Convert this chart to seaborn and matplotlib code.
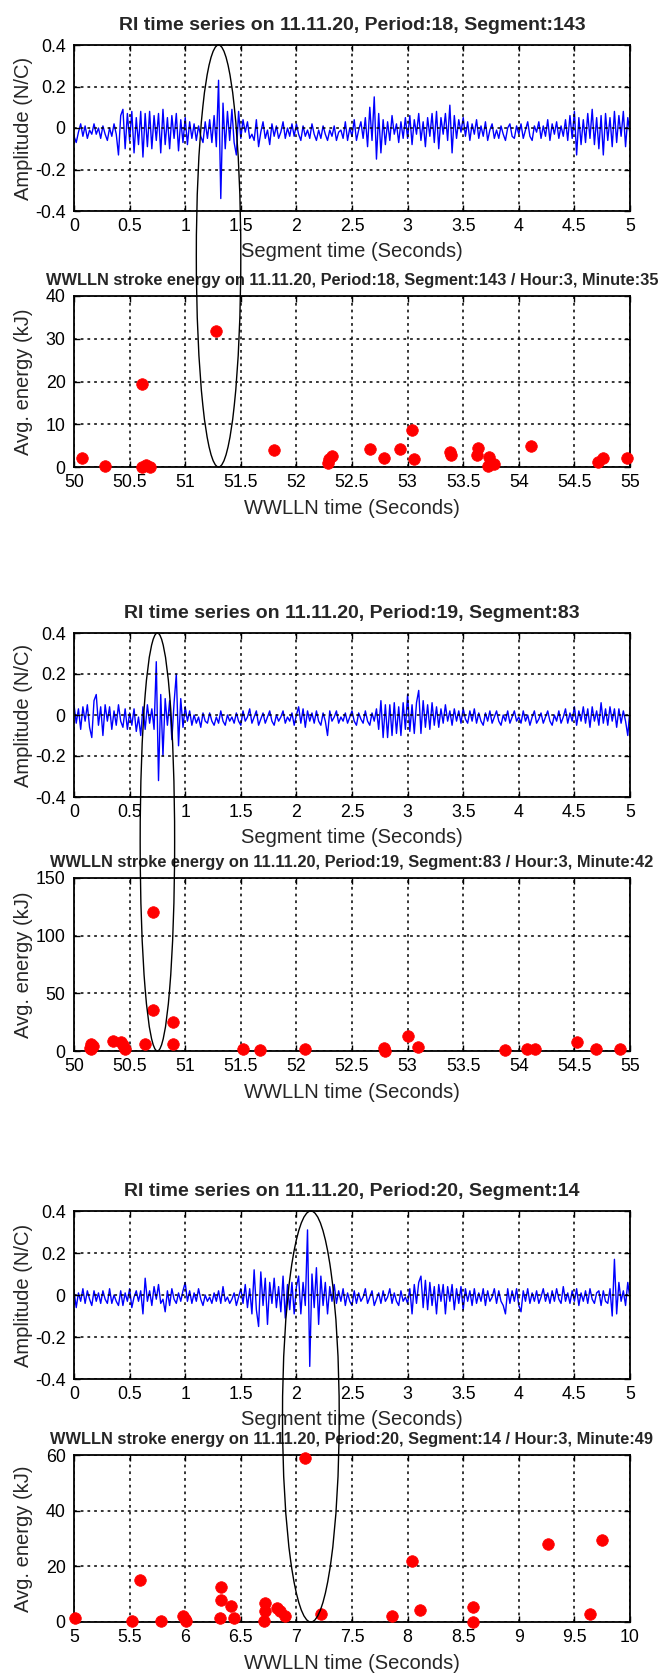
import numpy as np
import pandas as pd
import matplotlib
matplotlib.use("Agg")
import matplotlib.pyplot as plt
import seaborn as sns
from matplotlib.patches import Ellipse
from matplotlib.transforms import IdentityTransform

# ---------------- data ----------------
SAMPLE_DT = 0.02  # seconds between RI samples

ri_p18 = [
    -0.04, -0.07, -0.02, 0.02, -0.04, 0.01, -0.05, -0.01, -0.03, 0.02,
    -0.03, 0.00, -0.05, 0.01, -0.03, -0.06, 0.00, -0.04, 0.02, -0.03,
    -0.13, 0.06, 0.09, -0.10, 0.07, -0.06, 0.08, -0.12, 0.05, -0.08,
    0.08, -0.14, 0.07, -0.09, 0.08, -0.10, 0.06, -0.06, 0.07, -0.12,
    0.09, -0.08, 0.05, -0.10, 0.06, -0.05, 0.07, -0.11, 0.04, -0.07,
    0.05, -0.08, 0.03, -0.05, 0.02, -0.06, 0.01, -0.04, -0.07, 0.03,
    -0.05, 0.04, -0.07, 0.06, -0.09, 0.23, -0.34, 0.12, -0.10, 0.08,
    -0.06, 0.09, -0.07, -0.13, 0.08, -0.05, 0.04, -0.02, 0.03, -0.05,
    -0.03, -0.06, 0.04, -0.09, -0.02, 0.03, -0.05, -0.01, -0.08, 0.02,
    -0.04, 0.01, -0.05, -0.02, 0.03, -0.05, 0.00, -0.04, 0.02, -0.04,
    0.02, -0.03, -0.06, 0.01, -0.04, -0.01, -0.05, 0.02, -0.03, -0.06,
    -0.01, -0.05, 0.01, -0.03, -0.06, -0.01, -0.04, 0.01, -0.06, -0.02,
    -0.01, -0.05, 0.03, -0.06, 0.00, -0.04, 0.04, -0.06, -0.01, 0.03,
    -0.05, 0.05, -0.09, 0.10, -0.06, 0.15, -0.15, 0.07, -0.12, 0.04,
    -0.08, 0.03, -0.06, 0.06, -0.03, 0.02, -0.07, 0.03, -0.05, 0.05,
    -0.05, 0.06, -0.08, 0.04, -0.03, 0.07, -0.06, 0.03, -0.09, 0.05,
    -0.04, 0.07, -0.07, 0.08, -0.10, 0.05, -0.03, 0.07, -0.06, 0.11,
    -0.12, 0.06, -0.05, 0.04, -0.02, 0.05, -0.04, 0.03, -0.06, 0.02,
    -0.03, 0.04, -0.05, 0.01, -0.04, 0.03, -0.06, -0.01, 0.02, -0.05,
    -0.01, -0.05, 0.01, -0.03, -0.06, 0.00, 0.02, -0.04, -0.05, 0.01,
    -0.03, 0.02, -0.05, -0.01, 0.03, -0.04, -0.06, 0.01, -0.02, 0.03,
    -0.05, 0.01, -0.04, 0.04, -0.06, 0.02, -0.03, 0.03, -0.05, 0.01,
    -0.04, 0.04, -0.06, 0.06, -0.05, 0.08, -0.13, 0.05, -0.08, 0.04,
    -0.07, 0.07, -0.05, 0.09, -0.08, 0.05, -0.10, 0.06, -0.13, 0.07,
    -0.06, 0.05, -0.09, 0.08, -0.07, 0.06, -0.04, 0.08, -0.09, 0.05,
    -0.03,
]

ri_p19 = [
    0.05, -0.04, 0.03, -0.07, 0.04, -0.03, 0.05, -0.06, -0.11, 0.07,
    0.10, -0.05, 0.04, -0.10, 0.05, -0.03, 0.04, -0.07, 0.02, -0.05,
    0.05, -0.03, -0.06, 0.03, -0.07, 0.01, -0.05, 0.03, -0.08, -0.01,
    -0.10, 0.04, -0.07, 0.05, -0.04, 0.03, -0.07, 0.26, -0.32, 0.10,
    -0.20, 0.08, -0.05, 0.07, -0.12, 0.06, 0.20, -0.15, 0.08, -0.06,
    0.04, -0.03, 0.02, -0.05, 0.00, -0.04, -0.01, -0.06, 0.01, -0.03,
    -0.04, 0.01, -0.03, -0.05, -0.01, -0.04, 0.02, -0.03, -0.05, 0.00,
    -0.03, -0.01, -0.04, 0.01, -0.03, -0.05, 0.02, -0.03, -0.01, 0.03,
    -0.04, -0.01, 0.02, -0.05, -0.02, 0.01, -0.04, -0.01, 0.02, -0.03,
    -0.05, 0.00, -0.03, -0.01, 0.02, -0.04, -0.01, -0.03, 0.01, -0.05,
    0.00, 0.04, -0.04, 0.03, -0.06, 0.02, -0.03, 0.01, -0.04, 0.02,
    -0.03, -0.05, 0.01, -0.03, -0.10, 0.02, -0.03, -0.01, 0.02, -0.04,
    -0.01, -0.03, 0.01, -0.04, -0.01, 0.02, -0.03, -0.05, 0.01, -0.02,
    -0.04, 0.02, -0.03, -0.05, 0.01, -0.03, 0.03, -0.07, 0.07, -0.11,
    0.05, -0.11, 0.05, -0.10, 0.06, -0.09, 0.04, -0.10, 0.06, -0.07,
    0.10, -0.08, 0.05, -0.09, 0.06, 0.12, -0.09, 0.07, -0.06, 0.05,
    -0.07, 0.06, -0.05, 0.04, -0.06, 0.03, -0.04, 0.05, -0.03, 0.02,
    -0.05, 0.03, -0.03, 0.02, -0.04, 0.03, -0.02, -0.04, 0.02, -0.03,
    0.03, -0.04, 0.01, -0.03, -0.05, 0.01, -0.03, 0.02, -0.04, -0.01,
    0.02, -0.03, -0.05, 0.00, -0.03, 0.02, -0.04, -0.01, 0.02, -0.03,
    -0.01, -0.04, 0.02, -0.03, 0.00, -0.05, -0.01, 0.02, -0.04, -0.02,
    0.01, -0.04, -0.01, 0.02, -0.03, -0.05, 0.00, -0.03, 0.02, -0.04,
    -0.01, 0.03, -0.04, 0.01, -0.03, 0.04, -0.05, 0.02, -0.03, 0.04,
    -0.04, 0.03, -0.06, 0.04, -0.03, 0.02, -0.05, 0.06, -0.04, 0.03,
    -0.05, 0.04, -0.03, 0.03, -0.06, 0.03, -0.04, 0.02, -0.03, -0.10,
    0.03,
]

ri_p20 = [
    0.02, -0.06, 0.01, -0.03, 0.03, -0.04, 0.02, -0.02, -0.05, 0.02,
    -0.03, 0.01, -0.04, 0.02, -0.02, -0.04, 0.03, -0.04, 0.00, -0.03,
    -0.05, 0.02, -0.05, 0.01, -0.03, 0.03, -0.06, -0.01, 0.02, -0.03,
    0.02, -0.09, 0.08, -0.03, 0.02, -0.05, 0.04, -0.02, 0.05, -0.04,
    -0.02, -0.08, 0.02, -0.05, 0.03, -0.02, -0.04, 0.01, -0.03, 0.02,
    0.06, -0.03, 0.02, -0.04, 0.01, -0.03, 0.03, -0.02, -0.05, 0.00,
    -0.03, -0.01, -0.04, 0.01, -0.03, 0.02, -0.04, 0.04, -0.03, -0.01,
    -0.04, -0.02, 0.01, -0.05, -0.01, 0.03, -0.04, 0.05, -0.06, 0.03,
    -0.09, 0.12, -0.07, -0.15, 0.11, -0.05, 0.08, -0.14, 0.06, -0.04,
    0.08, -0.06, 0.04, -0.08, 0.09, -0.11, 0.05, -0.07, 0.06, -0.09,
    0.04, 0.09, -0.09, 0.06, -0.05, 0.31, -0.34, 0.10, -0.06, 0.13,
    -0.14, 0.09, -0.05, 0.06, -0.09, 0.04, -0.03, 0.05, -0.04, 0.02,
    -0.03, 0.03, -0.05, 0.01, -0.03, -0.05, 0.02, -0.04, 0.01, -0.03,
    -0.01, 0.03, -0.04, -0.01, 0.02, -0.05, -0.02, 0.01, -0.04, 0.02,
    -0.03, -0.01, 0.03, -0.04, 0.01, -0.03, -0.05, 0.02, -0.03, -0.01,
    -0.04, 0.03, -0.09, 0.05, -0.04, 0.06, 0.09, -0.06, 0.07, -0.07,
    0.06, -0.05, 0.04, -0.09, 0.05, -0.03, 0.05, -0.09, 0.04, -0.03,
    0.05, -0.07, 0.03, -0.04, 0.04, -0.07, 0.03, -0.03, 0.02, -0.05,
    0.03, -0.04, 0.01, -0.03, 0.03, -0.05, 0.02, -0.03, -0.01, 0.03,
    -0.04, 0.02, -0.03, -0.05, -0.09, 0.03, -0.04, 0.02, -0.03, 0.03,
    -0.05, -0.08, 0.02, -0.03, 0.03, -0.04, 0.01, -0.03, 0.02, -0.04,
    -0.01, 0.03, -0.03, 0.01, -0.04, 0.02, -0.03, 0.03, -0.02, -0.04,
    0.04, -0.03, 0.01, -0.04, 0.02, -0.03, 0.03, -0.05, 0.01, -0.03,
    0.02, -0.04, 0.03, -0.02, -0.04, 0.01, 0.02, -0.05, 0.02, -0.03,
    -0.04, 0.03, -0.10, 0.17, -0.09, 0.06, -0.03, 0.02, -0.05, 0.06,
    -0.02,
]

# WWLLN strokes: time (s) and average energy (kJ)
wwlln_p18_t = [50.07, 50.28, 50.61, 50.61, 50.65, 50.68, 51.28, 51.80, 52.28, 52.29,
               52.32, 52.66, 52.79, 52.93, 53.04, 53.06, 53.38, 53.39, 53.62, 53.63,
               53.73, 53.72, 53.75, 53.78, 54.11, 54.71, 54.76, 54.97]
wwlln_p18_e = [2.1, 0.2, 19.4, 0.0, 0.4, 0.1, 31.9, 3.9, 0.9, 1.8,
               2.6, 4.1, 2.1, 4.1, 8.6, 1.8, 3.6, 2.8, 2.9, 4.5,
               2.4, 0.2, 1.0, 0.8, 5.0, 1.2, 2.0, 2.1]

wwlln_p19_t = [50.14, 50.15, 50.17, 50.15, 50.35, 50.42, 50.44, 50.46, 50.64, 50.71,
               50.71, 50.89, 50.89, 51.52, 51.67, 52.08, 52.79, 52.80, 53.00, 53.09,
               53.88, 54.07, 54.15, 54.52, 54.69, 54.91]
wwlln_p19_e = [2.9, 5.8, 4.4, 1.5, 8.7, 7.8, 4.9, 2.0, 5.8, 120.4,
               35.4, 25.5, 5.8, 2.0, 0.5, 1.5, 2.3, 0.2, 13.0, 3.5,
               0.6, 2.0, 2.0, 7.8, 2.0, 2.0]

wwlln_p20_t = [5.01, 5.52, 5.59, 5.78, 5.98, 6.00, 6.01, 6.31, 6.32, 6.32,
               6.41, 6.44, 6.71, 6.72, 6.72, 6.83, 6.85, 6.90, 7.08, 7.22,
               7.86, 8.04, 8.11, 8.59, 8.59, 9.26, 9.64, 9.75]
wwlln_p20_e = [1.4, 0.3, 15.1, 0.3, 2.1, 0.9, 0.3, 1.5, 12.5, 7.9,
               5.8, 1.5, 0.3, 6.9, 4.1, 5.2, 3.8, 2.1, 58.8, 2.7,
               2.3, 21.8, 4.4, 5.3, 0.0, 27.9, 2.7, 29.3]

ri_titles = ["RI time series on 11.11.20, Period:18, Segment:143",
             "RI time series on 11.11.20, Period:19, Segment:83",
             "RI time series on 11.11.20, Period:20, Segment:14"]
wwlln_titles = ["WWLLN stroke energy on 11.11.20, Period:18, Segment:143 / Hour:3, Minute:35",
                "WWLLN stroke energy on 11.11.20, Period:19, Segment:83 / Hour:3, Minute:42",
                "WWLLN stroke energy on 11.11.20, Period:20, Segment:14 / Hour:3, Minute:49"]

ri_xticks = [0, 0.5, 1, 1.5, 2, 2.5, 3, 3.5, 4, 4.5, 5]
ri_yticks = [-0.4, -0.2, 0, 0.2, 0.4]
wwlln_xticks = [[50, 50.5, 51, 51.5, 52, 52.5, 53, 53.5, 54, 54.5, 55],
                [50, 50.5, 51, 51.5, 52, 52.5, 53, 53.5, 54, 54.5, 55],
                [5, 5.5, 6, 6.5, 7, 7.5, 8, 8.5, 9, 9.5, 10]]
wwlln_yticks = [[0, 10, 20, 30, 40], [0, 50, 100, 150], [0, 20, 40, 60]]

# highlighted stroke (ellipse): centre in segment time, width (s)
highlight_x = [1.30, 0.75, 2.13]
highlight_w = [0.40, 0.31, 0.51]

# ---------------- style ----------------
sns.set_style("white")
plt.rcParams["font.family"] = ["Liberation Sans", "DejaVu Sans"]
plt.rcParams["axes.unicode_minus"] = False
FS_T, FS_T2, FS_L, FS_TICK = 14.0, 11.8, 14.5, 12.8

W, H = 667, 1677
fig = plt.figure(figsize=(W / 100, H / 100), dpi=100)

left = 74 / W
width = (630 - 74) / W
# (top_px, bottom_px) for each axes
boxes = [(45, 211), (296, 467), (633, 797), (878, 1051), (1211, 1379), (1455, 1622)]
axes = []
for top, bot in boxes:
    ax = fig.add_axes([left, 1 - bot / H, width, (bot - top) / H])
    axes.append(ax)


def fmt(v):
    return "%g" % v


def style_axes(ax, xt, yt):
    ax.set_xticks(xt)
    ax.set_xticklabels([fmt(v) for v in xt], fontsize=FS_TICK)
    ax.set_yticks(yt)
    ax.set_yticklabels([fmt(v) for v in yt], fontsize=FS_TICK)
    ax.grid(True, color="black", linestyle=(0, (1.8, 2.6)), linewidth=1.1)
    ax.set_axisbelow(False)
    for sp in ax.spines.values():
        sp.set_visible(True)
        sp.set_color("black")
        sp.set_linewidth(1.3)
    ax.tick_params(direction="in", length=4, width=1, colors="black",
                   top=True, right=True, bottom=True, left=True)
    ax.tick_params(axis="x", pad=5)
    ax.tick_params(axis="y", pad=6)
    ax.set_facecolor("white")


series = [ri_p18, ri_p19, ri_p20]
scat = [(wwlln_p18_t, wwlln_p18_e), (wwlln_p19_t, wwlln_p19_e), (wwlln_p20_t, wwlln_p20_e)]

YLAB_X = -0.073

for k in range(3):
    ax = axes[2 * k]
    vals = series[k]
    df = pd.DataFrame({"t": np.arange(len(vals)) * SAMPLE_DT, "amp": vals})
    sns.lineplot(data=df, x="t", y="amp", ax=ax, color="#0000ff", linewidth=1.0)
    ax.set_xlim(0, 5)
    ax.set_ylim(-0.4, 0.4)
    style_axes(ax, ri_xticks, ri_yticks)
    ax.set_title(ri_titles[k], fontsize=FS_T, fontweight="bold", pad=11)
    ax.set_xlabel("Segment time (Seconds)", fontsize=FS_L, labelpad=5)
    ax.set_ylabel("Amplitude (N/C)", fontsize=FS_L)
    ax.yaxis.set_label_coords(YLAB_X, 0.5)

    ax2 = axes[2 * k + 1]
    tt, ee = scat[k]
    dfs = pd.DataFrame({"t": tt, "e": ee})
    sns.scatterplot(data=dfs, x="t", y="e", ax=ax2, color="#ff0000", s=70,
                    edgecolor="#ff0000", linewidth=0.5, clip_on=False, zorder=5)
    xt = wwlln_xticks[k]
    yt = wwlln_yticks[k]
    ax2.set_xlim(xt[0], xt[-1])
    ax2.set_ylim(yt[0], yt[-1])
    style_axes(ax2, xt, yt)
    ax2.set_title(wwlln_titles[k], fontsize=FS_T2, fontweight="bold", pad=8)
    ax2.set_xlabel("WWLLN time (Seconds)", fontsize=FS_L, labelpad=6)
    ax2.set_ylabel("Avg. energy (kJ)", fontsize=FS_L)
    ax2.yaxis.set_label_coords(YLAB_X, 0.5)

# ellipses linking the RI burst with the WWLLN stroke
fig.canvas.draw()
for k in range(3):
    ax_top = axes[2 * k]
    ax_bot = axes[2 * k + 1]
    x_top, y_top = ax_top.transData.transform((highlight_x[k], 0.4))
    _, y_bot = ax_bot.transAxes.transform((0, 0))
    x_l, _ = ax_top.transData.transform((highlight_x[k] - highlight_w[k] / 2, 0))
    x_r, _ = ax_top.transData.transform((highlight_x[k] + highlight_w[k] / 2, 0))
    e = Ellipse((x_top, (y_top + y_bot) / 2), x_r - x_l, y_top - y_bot,
                fill=False, edgecolor="black", linewidth=1.0,
                transform=IdentityTransform(), zorder=20)
    fig.add_artist(e)

fig.savefig("out.png", dpi=100, facecolor="white")
